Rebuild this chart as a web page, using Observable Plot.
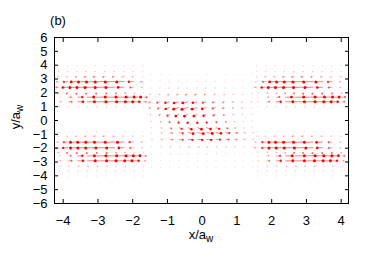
<!DOCTYPE html>
<html><head><meta charset="utf-8">
<script src="https://cdn.jsdelivr.net/npm/d3@7"></script>
<script src="https://cdn.jsdelivr.net/npm/@observablehq/plot@0.6"></script>
<style>
body{margin:0;background:#fff;}
#chart{width:374px;height:261px;}
</style></head><body><div id="chart"></div>
<script>
// Tick values
const xTicks = [-4,-3,-2,-1,0,1,2,3,4];
const yTicks = [-6,-5,-4,-3,-2,-1,0,1,2,3,4,5,6];

// Arrow base columns (x / a_w) of the three blocks
const colsLeft  = [-4.12,-3.86,-3.59,-3.32,-3.05,-2.78,-2.51,-2.24,-1.97,-1.70];
const colsMid   = [-1.47,-1.20,-0.94,-0.67,-0.41,-0.14,0.12,0.39,0.66,0.92,1.18,1.44];
const colsRight = [1.58,1.85,2.12,2.39,2.66,2.93,3.20,3.47,3.74,4.01];

// Arrow base rows (y / a_w)
const rowsTop = [3.96,3.55,3.19,2.82,2.41,2.03,1.68,1.35,0.99];
const rowsBot = [-0.82,-1.11,-1.55,-1.96,-2.27,-2.56,-2.92,-3.28,-3.65,-4.01];
const rowsMid = [3.35,2.85,2.37,1.91,1.35,0.94,0.46,-0.03,-0.51,-0.87,-1.36,-1.89,-2.40,-2.90,-3.40];

// Displacements in hundredths of a_w (one string per row)
const uTopLeft = [
"-1 -1 -1 -1 -1 -1 -1 -1 -1 -1",
"-2 -2 -2 -3 -3 -3 -3 -2 -2 -1",
"-3 -4 -5 -6 -7 -7 -6 -5 -4 -2",
"-6 -12 -18 -24 -28 -30 -28 -22 -14 -6",
"-8 -15 -22 -28 -32 -30 -26 -18 -10 -4",
"-3 -4 -3 -2 0 2 3 3 2 1",
"3 8 14 20 26 30 32 28 20 10",
"5 10 16 22 28 32 30 24 16 8",
"2 2 3 3 3 3 3 2 2 1"];
const vTopLeft = [
"-1 -1 -1 -1 -1 -1 -1 -1 -1 -1",
"-2 -2 -2 -2 -2 -2 -2 -2 -2 -1",
"-3 -3 -4 -4 -4 -4 -4 -3 -3 -2",
"-2 -3 -3 -3 -3 -3 -3 -3 -2 -1",
"-2 -2 -2 -2 -2 -2 -2 -2 -2 -1",
"-6 -8 -9 -9 -9 -8 -7 -6 -4 -2",
"1 1 1 1 1 1 1 1 1 0",
"1 1 1 1 1 1 1 1 1 0",
"1 1 1 1 1 1 1 1 1 1"];
const uBotLeft = [
"1 1 1 1 1 1 1 1 1 1",
"-2 -3 -4 -5 -6 -6 -5 -4 -3 -2",
"-5 -12 -20 -26 -30 -32 -28 -20 -12 -5",
"-8 -14 -20 -26 -30 -28 -24 -16 -10 -4",
"-2 -3 -2 0 2 3 3 2 1 1",
"3 8 14 22 28 32 32 26 18 8",
"5 10 16 24 30 30 28 22 14 6",
"3 3 4 4 4 4 3 3 2 1",
"2 2 2 2 2 2 2 2 2 1",
"1 1 1 1 1 1 1 1 1 1"];
const vBotLeft = [
"1 1 1 1 1 1 1 1 1 1",
"-2 -2 -3 -3 -3 -3 -3 -2 -2 -1",
"-2 -3 -3 -3 -3 -3 -3 -3 -2 -1",
"-2 -2 -2 -2 -2 -2 -2 -2 -2 -1",
"-6 -8 -9 -9 -8 -8 -6 -5 -3 -2",
"1 1 1 1 1 1 1 1 1 0",
"1 1 1 1 1 1 1 1 1 0",
"-2 -2 -2 -2 -2 -2 -2 -2 -1 -1",
"-1 -1 -1 -1 -1 -1 -1 -1 -1 -1",
"-1 -1 -1 -1 -1 -1 -1 -1 -1 -1"];
const uTopRight = [
"-1 -1 -1 -1 -1 -1 -1 -1 -1 -1",
"-2 -2 -2 -3 -3 -3 -3 -2 -2 -1",
"-2 -4 -5 -6 -7 -7 -6 -5 -4 -3",
"-4 -10 -18 -25 -30 -32 -28 -20 -12 -5",
"-6 -14 -22 -28 -32 -30 -24 -16 -10 -4",
"2 3 2 0 -2 -3 -3 -2 -1 0",
"2 5 10 18 26 32 32 28 20 10",
"3 8 14 22 28 32 30 24 16 8",
"1 2 2 3 3 3 3 2 2 2"];
const vTopRight = [
"-1 -1 -1 -1 -1 -1 -1 -1 -1 -1",
"-1 -2 -2 -2 -2 -2 -2 -2 -2 -2",
"-2 -3 -3 -4 -4 -4 -4 -4 -3 -3",
"-1 -2 -3 -3 -3 -3 -3 -3 -3 -2",
"-1 -2 -2 -2 -2 -2 -2 -2 -2 -2",
"-2 -4 -6 -7 -8 -9 -9 -9 -8 -6",
"0 1 1 1 1 1 1 1 1 1",
"0 1 1 1 1 1 1 1 1 1",
"1 1 1 1 1 1 1 1 1 1"];
const uBotRight = [
"1 1 1 1 1 1 1 1 1 1",
"-2 -3 -4 -5 -6 -6 -5 -4 -3 -2",
"-5 -12 -20 -28 -32 -30 -26 -18 -10 -4",
"-6 -12 -20 -26 -30 -28 -22 -16 -10 -4",
"2 3 2 0 -2 -3 -3 -2 -1 -1",
"2 6 12 20 28 32 30 26 18 8",
"3 8 14 22 28 30 28 22 14 6",
"2 3 3 4 4 4 4 3 3 2",
"2 2 2 2 2 2 2 2 2 1",
"1 1 1 1 1 1 1 1 1 1"];
const vBotRight = [
"1 1 1 1 1 1 1 1 1 1",
"-1 -2 -2 -3 -3 -3 -3 -3 -2 -2",
"-1 -2 -3 -3 -3 -3 -3 -3 -3 -2",
"-1 -2 -2 -2 -2 -2 -2 -2 -2 -2",
"-2 -3 -5 -6 -8 -8 -9 -9 -8 -6",
"0 1 1 1 1 1 1 1 1 1",
"0 1 1 1 1 1 1 1 1 1",
"-1 -1 -2 -2 -2 -2 -2 -2 -2 -2",
"-1 -1 -1 -1 -1 -1 -1 -1 -1 -1",
"-1 -1 -1 -1 -1 -1 -1 -1 -1 -1"];
const uMid = [
"1 1 1 1 1 1 1 1 1 1 1 1",
"-1 -1 -1 -1 -1 -1 -1 -1 -1 -1 -1 -1",
"-1 -2 -2 -2 -2 -2 -2 -2 -2 -1 -1 -1",
"-3 -3 -4 -5 -6 -6 -5 -4 -3 -3 -2 -2",
"-6 -9 -12 -14 -15 -13 -10 -8 -6 -5 -4 -3",
"-4 -7 -11 -15 -17 -15 -12 -9 -6 -4 -3 -2",
"-2 -3 -6 -9 -10 -10 -8 -6 -4 -3 -2 -1",
"0 1 0 -1 -1 0 1 2 2 1 0 0",
"2 3 5 8 10 12 12 10 7 4 2 1",
"2 4 7 11 15 17 17 15 12 8 5 3",
"3 5 8 11 13 14 14 12 10 7 5 3",
"2 3 3 3 4 4 4 3 3 3 2 2",
"1 1 2 2 2 2 2 2 2 1 1 1",
"1 1 1 1 1 1 1 1 1 1 1 1",
"1 1 1 1 1 1 1 1 1 1 1 1"];
const vMid = [
"-1 -1 -1 -1 -1 -1 -1 -1 -1 -1 -1 -1",
"-1 -1 -1 -1 -1 -1 -1 -1 -1 -1 -1 -1",
"-1 -1 -2 -2 -2 -2 -2 -2 -1 -1 -1 -1",
"-2 -3 -4 -4 -4 -4 -4 -3 -3 -2 -2 -1",
"-4 -6 -7 -8 -8 -7 -6 -5 -4 -3 -2 -2",
"-5 -7 -10 -12 -13 -12 -10 -7 -5 -4 -3 -2",
"-4 -7 -11 -14 -15 -14 -12 -9 -7 -4 -3 -2",
"-3 -6 -10 -13 -14 -14 -13 -10 -7 -4 -3 -2",
"-2 -4 -7 -10 -12 -12 -11 -9 -6 -4 -3 -2",
"-1 -2 -4 -6 -8 -8 -7 -6 -4 -3 -2 -1",
"-1 -1 -2 -3 -4 -4 -4 -3 -2 -2 -1 -1",
"-1 -1 -2 -2 -2 -2 -2 -2 -2 -1 -1 -1",
"-1 -1 -1 -1 -1 -1 -1 -1 -1 -1 -1 -1",
"-1 -1 -1 -1 -1 -1 -1 -1 -1 -1 -1 -1",
"-1 -1 -1 -1 -1 -1 -1 -1 -1 -1 -1 -1"];

function block(cols, rows, uRows, vRows) {
  const out = [];
  rows.forEach((y, j) => {
    const us = uRows[j].trim().split(/\s+/).map(Number);
    const vs = vRows[j].trim().split(/\s+/).map(Number);
    cols.forEach((x, i) => {
      const u = us[i] / 100, v = vs[i] / 100;
      out.push({x, y, x2: x + u, y2: y + v, m: Math.hypot(u, v)});
    });
  });
  return out;
}
const field = [
  ...block(colsLeft, rowsTop, uTopLeft, vTopLeft),
  ...block(colsLeft, rowsBot, uBotLeft, vBotLeft),
  ...block(colsRight, rowsTop, uTopRight, vTopRight),
  ...block(colsRight, rowsBot, uBotRight, vBotRight),
  ...block(colsMid, rowsMid, uMid, vMid)
].sort((a, b) => a.m - b.m);

const font = "'Liberation Sans', Arial, Helvetica, sans-serif";
const chart = Plot.plot({
  width: 374, height: 261,
  marginLeft: 54, marginRight: 26, marginTop: 37, marginBottom: 58,
  x: {domain: [-4.25, 4.21]},
  y: {domain: [-6, 6]},
  color: {type: "linear", domain: [0, 0.15], range: ["#ffe6e6", "#ff0000"], clamp: true},
  r: {type: "linear", domain: [0, 0.2], range: [0.5, 1.5], clamp: true},
  style: {fontFamily: font, fontSize: "12px", color: "#000", background: "#fff", overflow: "visible"},
  marks: [
    Plot.link(field, {x1: "x", y1: "y", x2: "x2", y2: "y2", stroke: "m", strokeWidth: 1, strokeOpacity: 0.5}),
    Plot.dot(field, {x: "x2", y: "y2", r: "m", fill: "m"}),
    Plot.frame({stroke: "#000", strokeWidth: 1}),
    Plot.axisX(xTicks, {anchor: "bottom", tickSize: -4, tickFormat: () => "", stroke: "#000"}),
    Plot.axisX(xTicks, {anchor: "top", tickSize: -4, tickFormat: () => "", stroke: "#000", label: null}),
    Plot.axisY(yTicks, {anchor: "left", tickSize: -4, tickFormat: () => "", stroke: "#000"}),
    Plot.axisY(yTicks, {anchor: "right", tickSize: -4, tickFormat: () => "", stroke: "#000", label: null}),
    Plot.axisX(xTicks, {anchor: "bottom", tickSize: 0, tickPadding: 12, label: null, fontSize: 13}),
    Plot.axisY(yTicks, {anchor: "left", tickSize: 0, tickPadding: 7, label: null, fontSize: 13})
  ]
});
document.getElementById("chart").appendChild(chart);

const svg = d3.select(chart);
const xl = svg.append("text").attr("x", 201).attr("y", 239).attr("text-anchor", "middle")
  .attr("font-family", font).attr("font-size", 13).attr("fill", "#000");
xl.append("tspan").text("x/a");
xl.append("tspan").attr("dy", 3).attr("font-size", 10).text("w");
const yl = svg.append("text").attr("transform", "translate(20,117) rotate(-90)").attr("text-anchor", "middle")
  .attr("font-family", font).attr("font-size", 13).attr("fill", "#000");
yl.append("tspan").text("y/a");
yl.append("tspan").attr("dy", 3).attr("font-size", 10).text("w");
svg.append("text").attr("x", 58).attr("y", 25).attr("font-family", font).attr("font-size", 13)
  .attr("fill", "#000").text("(b)");
</script></body></html>
